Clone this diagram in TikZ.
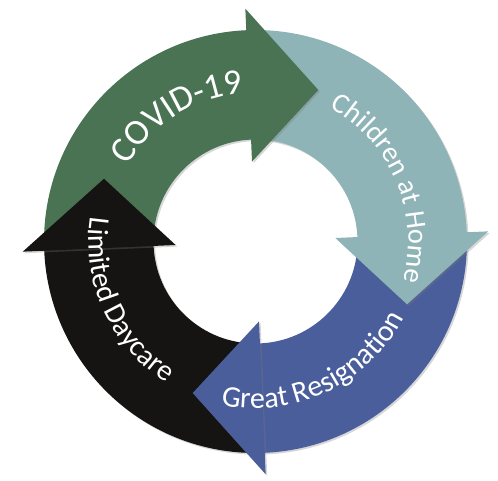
\documentclass[tikz,border=0pt]{standalone}
\usepackage{fontspec}
\setmainfont{Carlito}
\usetikzlibrary{decorations.text}
\definecolor{cgreen}{HTML}{4A7354}
\definecolor{cteal}{HTML}{8FB4B7}
\definecolor{cblue}{HTML}{4A5E9C}
\definecolor{cblack}{HTML}{151412}
\definecolor{cshadow}{HTML}{7A7A7A}
\tikzset{
  body/.style 2 args={insert path={(#1:211.5pt) arc[start angle=#1, end angle=#2, radius=211.5pt] -- (#2:102pt) arc[start angle=#2, end angle=#1, radius=102pt] -- cycle}},
  head/.style={insert path={(#1:233pt) -- ({#1-25}:164pt) -- (#1:80pt) -- cycle}},
  shade/.style={fill=cshadow, opacity=0.3, shift={(1.6pt,-1.6pt)}},
  lbl/.style={decorate, decoration={text along path, text align=center, text={#1}}}
}
\begin{document}
\begin{tikzpicture}[x=1pt,y=1pt]
\useasboundingbox (0,0) rectangle (498,480);
\begin{scope}[shift={(255.5,238.5)}]
  % bodies
  \fill[shade, body={178}{91.5}];
  \fill[cgreen, body={178}{91.5}];
  \fill[shade, body={88}{1.5}];
  \fill[cteal, body={88}{1.5}];
  \fill[shade, body={-2}{-88.5}];
  \fill[cblue, body={-2}{-88.5}];
  \fill[shade, body={-92}{-178.5}];
  \fill[cblack, body={-92}{-178.5}];
  % heads
  \fill[shade, head=92.5];
  \fill[cgreen, head=92.5];
  \fill[shade, head=2.5];
  \fill[cteal, head=2.5];
  \fill[shade, head=-87.5];
  \fill[cblue, head=-87.5];
  \fill[shade, head=-177.5];
  \fill[cblack, head=-177.5];
  % labels
  \path[lbl={|\color{white}\fontsize{36}{36}\selectfont|COVID-19}]
    (182:149pt) arc[start angle=182, end angle=62, radius=149pt];
  \path[lbl={|\color{white}\fontsize{28.5}{28.5}\selectfont|Children at Home}]
    (83:153pt) arc[start angle=83, end angle=-37, radius=153pt];
  \path[lbl={|\color{white}\fontsize{30}{30}\selectfont|Great Resignation}]
    (-124.5:167pt) arc[start angle=-124.5, end angle=-4.5, radius=167pt];
  \path[lbl={|\color{white}\fontsize{29.5}{29.5}\selectfont|Limited Daycare}]
    (144.5:167pt) arc[start angle=144.5, end angle=264.5, radius=167pt];
\end{scope}
\end{tikzpicture}
\end{document}
